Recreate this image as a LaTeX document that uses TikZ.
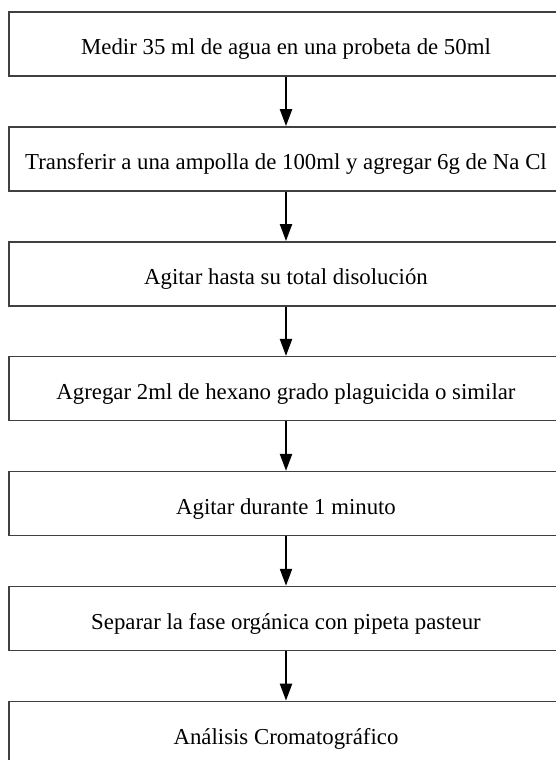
\documentclass[tikz,border=0pt]{standalone}
\usepackage{fontspec}
\setmainfont{Liberation Serif}
\usetikzlibrary{positioning, arrows.meta}

\tikzset{
    stepbox/.style={draw=black!75, line width=1.5pt, minimum width=554pt, minimum height=64pt, inner sep=0pt, text height=22pt, text depth=0pt, font=\fontsize{22.8}{27}\selectfont},
    flow/.style={-{Triangle[length=17pt,width=12pt]}, line width=2.2pt}
}

\begin{document}
\begin{tikzpicture}[x=1pt,y=1pt]
            \useasboundingbox (0,0) rectangle (555,-760);
            \node[stepbox] (medir) at (286,-44) {Medir 35 ml de agua en una probeta de 50ml};
            \node[stepbox, below=49.4pt of medir] (transferir) {Transferir a una ampolla de 100ml y agregar 6g de Na Cl};
            \node[stepbox, below=49.4pt of transferir] (disolver) {Agitar hasta su total disolución};
            \node[stepbox, below=49.4pt of disolver] (hexano) {Agregar 2ml de hexano grado plaguicida o similar};
            \node[stepbox, below=49.4pt of hexano] (agitar) {Agitar durante 1 minuto};
            \node[stepbox, below=49.4pt of agitar] (separar) {Separar la fase orgánica con pipeta pasteur};
            \node[stepbox, below=49.4pt of separar] (analisis) {Análisis Cromatográfico};
            \foreach \a/\b in {medir/transferir, transferir/disolver, disolver/hexano, hexano/agitar, agitar/separar, separar/analisis}{
                \draw[flow] (\a) -- (\b);
            }
        \end{tikzpicture}
\end{document}
